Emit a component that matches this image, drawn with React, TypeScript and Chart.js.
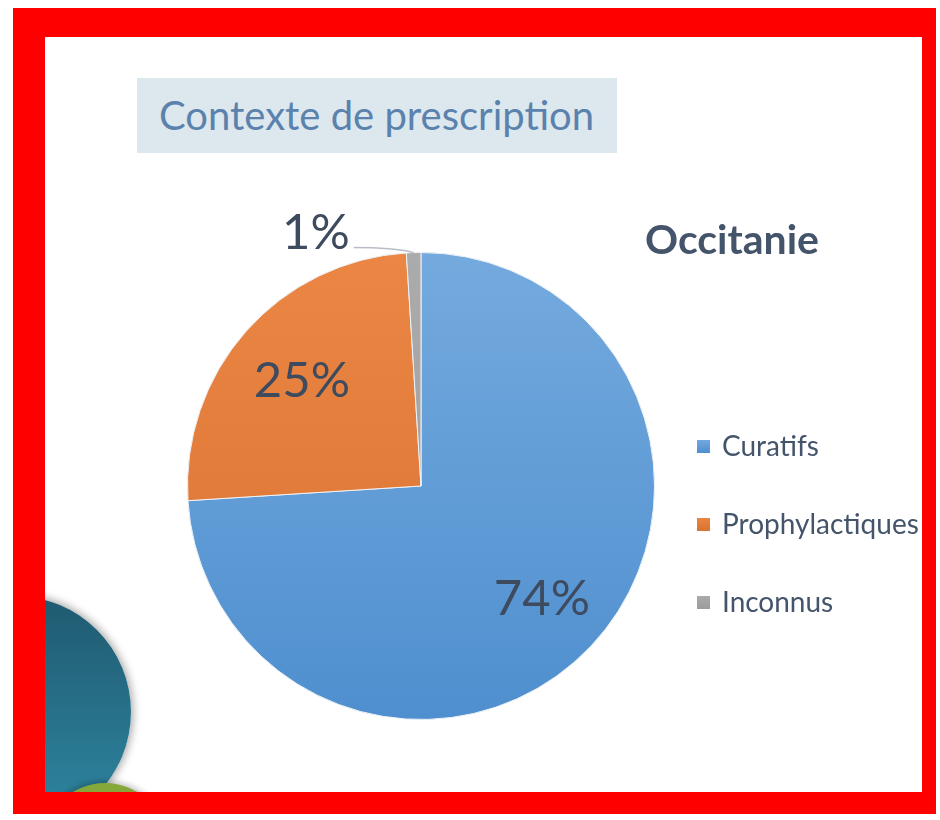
import React, { useEffect, useRef } from "react";
import { Chart, registerables } from "chart.js";

Chart.register(...registerables);

// ---- data ----
const categories = ["Curatifs", "Prophylactiques", "Inconnus"];
const shares = [74, 25, 1];
const percentLabels = ["74%", "25%", "1%"];
const regionTitle = "Occitanie";
const pageTitle = "Contexte de prescription";

// ---- styles ----
const sliceTop = ["#74aade", "#eb8645", "#ababab"];
const sliceBottom = ["#4f8fcf", "#da7230", "#9c9c9c"];
const textColor = "#44546a";
const FONT = "Lato, 'Open Sans', sans-serif";

const gradientFor = (chart: any, i: number) => {
  const ca = chart.chartArea;
  if (!ca) return sliceTop[i];
  const g = chart.ctx.createLinearGradient(0, ca.top, 0, ca.bottom);
  g.addColorStop(0, sliceTop[i]);
  g.addColorStop(1, sliceBottom[i]);
  return g;
};

const labelPlugin = {
  id: "pctLabels",
  afterDatasetsDraw(chart: any) {
    const ctx = chart.ctx;
    const meta = chart.getDatasetMeta(0);
    ctx.save();
    ctx.fillStyle = "#3e4b5f";
    ctx.font = `49px ${FONT}`;
    meta.data.forEach((arc: any, i: number) => {
      const { x, y, startAngle, endAngle, outerRadius } = arc.getProps(
        ["x", "y", "startAngle", "endAngle", "outerRadius"],
        true
      );
      const mid = (startAngle + endAngle) / 2;
      if (shares[i] >= 5) {
        const r = outerRadius * (i === 0 ? 0.71 : 0.68);
        ctx.textAlign = "center";
        ctx.textBaseline = "middle";
        ctx.fillText(percentLabels[i], x + Math.cos(mid) * r, y + Math.sin(mid) * r);
      } else {
        const ex = x + Math.cos(mid) * outerRadius;
        const ey = y + Math.sin(mid) * outerRadius;
        const lx = ex - 60;
        const ly = ey - 5;
        ctx.strokeStyle = "#b8bcc4";
        ctx.lineWidth = 1.5;
        ctx.beginPath();
        ctx.moveTo(lx, ly);
        ctx.quadraticCurveTo(ex - 20, ly, ex, ey);
        ctx.stroke();
        ctx.textAlign = "right";
        ctx.textBaseline = "middle";
        ctx.fillText(percentLabels[i], lx - 4, ly - 14);
      }
    });
    ctx.restore();
  },
  afterDraw(chart: any) {
    const ctx = chart.ctx;
    const ca = chart.chartArea;
    ctx.save();
    // region title
    ctx.fillStyle = textColor;
    ctx.font = `bold 41px ${FONT}`;
    ctx.textAlign = "left";
    ctx.textBaseline = "middle";
    ctx.fillText(regionTitle, ca.right - 10, ca.top - 11);
    // legend
    ctx.font = `28px ${FONT}`;
    const lx = ca.right + 42;
    const ly0 = ca.top + 194;
    categories.forEach((c, i) => {
      const cy = ly0 + i * 78;
      const g = ctx.createLinearGradient(0, cy - 7, 0, cy + 7);
      g.addColorStop(0, sliceTop[i]);
      g.addColorStop(1, sliceBottom[i]);
      ctx.fillStyle = g;
      ctx.fillRect(lx, cy - 6, 13, 13);
      ctx.fillStyle = textColor;
      ctx.fillText(c, lx + 25, cy + 1);
    });
    ctx.restore();
  },
};

export default function App() {
  const ref = useRef<HTMLCanvasElement>(null);
  useEffect(() => {
    if (!ref.current) return;
    const chart = new Chart(ref.current, {
      type: "pie",
      data: {
        labels: categories,
        datasets: [
          {
            data: shares,
            backgroundColor: (c: any) => gradientFor(c.chart, c.dataIndex),
            borderColor: "#eef2f6",
            borderWidth: 1,
          },
        ],
      },
      options: {
        responsive: false,
        animation: false,
        layout: { padding: { left: 187, top: 252, right: 285, bottom: 100 } },
        plugins: {
          legend: { display: false },
          tooltip: { enabled: false },
        },
      },
      plugins: [labelPlugin],
    });
    return () => chart.destroy();
  }, []);

  return (
    <div style={{ position: "fixed", left: 0, top: 0, width: 940, height: 820, background: "#fff", overflow: "hidden" }}>
      {/* red frame */}
      <div style={{ position: "absolute", left: 13, top: 8, width: 923, height: 806, background: "#ff0000" }} />
      {/* white slide */}
      <div style={{ position: "absolute", left: 45, top: 37, width: 877, height: 755, background: "#ffffff", overflow: "hidden" }}>
        <div
          style={{
            position: "absolute",
            left: 15 - 45 - 116,
            top: 712 - 37 - 116,
            width: 232,
            height: 232,
            borderRadius: "50%",
            background: "linear-gradient(#1f5a70, #2f87a2)",
            boxShadow: "0 0 8px 2px rgba(0,0,0,0.35)",
          }}
        />
        <div
          style={{
            position: "absolute",
            left: 105 - 45 - 62,
            top: 845 - 37 - 62,
            width: 124,
            height: 124,
            borderRadius: "50%",
            background: "#86a83a",
            boxShadow: "0 0 6px 2px rgba(0,0,0,0.25)",
          }}
        />
      </div>
      {/* title box */}
      <div
        style={{
          position: "absolute",
          left: 137,
          top: 78,
          width: 480,
          height: 75,
          background: "#dde7ee",
          color: "#5a82ad",
          fontFamily: FONT,
          fontSize: 40,
          lineHeight: "74px",
          paddingLeft: 22,
          boxSizing: "border-box",
          whiteSpace: "nowrap",
        }}
      >
        {pageTitle}
      </div>
      <canvas ref={ref} width={940} height={820} style={{ position: "absolute", left: 0, top: 0 }} />
    </div>
  );
}
